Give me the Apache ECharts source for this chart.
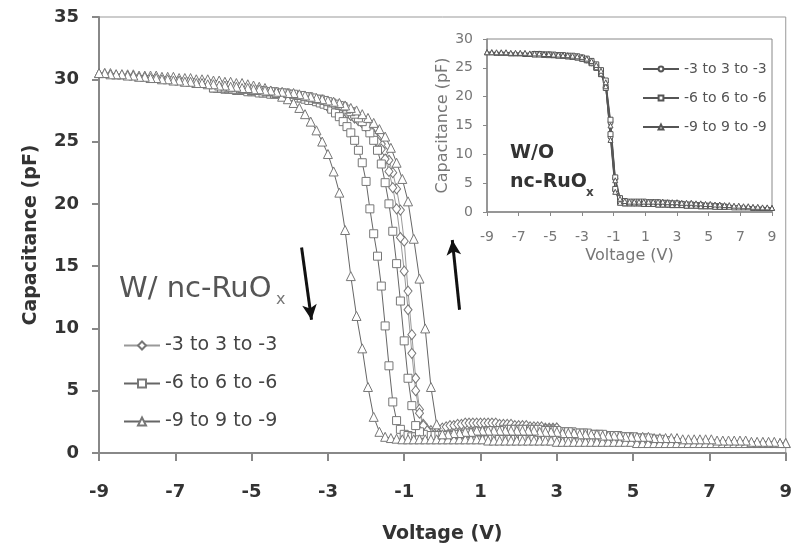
<!DOCTYPE html>
<html>
<head>
<meta charset="utf-8">
<script src="https://cdn.jsdelivr.net/npm/echarts@6/dist/echarts.min.js"></script>
<style>
  html, body { margin: 0; padding: 0; background: #fff; }
  #chart { width: 795px; height: 554px; }
</style>
</head>
<body>
<div id="chart"></div>
<script>
// Sweep labels and axis ticks
const sweepNames = ['-3 to 3 to -3', '-6 to 6 to -6', '-9 to 9 to -9'];
const voltTicks = [-9, -7, -5, -3, -1, 1, 3, 5, 7, 9];

// ---- With nc-RuOx (main panel): capacitance in pF ----
// forward sweep runs from -Vmax to +Vmax, return sweep from +Vmax back to -Vmax
const w3Start = -3, w3Step = 0.1;
const w3Fwd = [
  27.8, 27.7, 27.6, 27.5, 27.4, 27.3, 27.1, 26.9, 26.7, 26.5, 26.2,
  25.9, 25.6, 25.2, 24.8, 24.2, 23.5, 22.5, 21.2, 19.5, 17.0,
  13.0, 9.5, 6.0, 3.5, 2.3, 1.9, 1.8, 1.8, 1.9, 2.0,
  2.1, 2.2, 2.2, 2.3, 2.3, 2.4, 2.4, 2.4, 2.4, 2.4,
  2.4, 2.4, 2.4, 2.4, 2.3, 2.3, 2.3, 2.3, 2.2, 2.2,
  2.2, 2.2, 2.1, 2.1, 2.1, 2.1, 2.0, 2.0, 2.0, 2.0
];
const w3Ret = [
  2.0, 1.9, 1.9, 1.9, 1.8, 1.8, 1.8, 1.7, 1.7, 1.7, 1.7,
  1.6, 1.6, 1.6, 1.6, 1.5, 1.5, 1.5, 1.5, 1.5, 1.4,
  1.4, 1.4, 1.4, 1.4, 1.4, 1.4, 1.4, 1.4, 1.4, 1.4,
  1.5, 1.5, 1.6, 1.8, 2.2, 3.2, 5.0, 8.0, 11.5, 14.6,
  17.3, 19.6, 21.3, 22.6, 23.6, 24.4, 25.0, 25.5, 25.9, 26.2,
  26.5, 26.7, 26.9, 27.1, 27.3, 27.4, 27.5, 27.6, 27.7, 27.8
];

const w6Start = -6, w6Step = 0.1;
const w6Fwd = [
  29.3, 29.3, 29.3, 29.2, 29.2, 29.2, 29.1, 29.1, 29.1, 29.0, 29.0,
  29.0, 28.9, 28.9, 28.9, 28.8, 28.8, 28.8, 28.7, 28.7, 28.6,
  28.6, 28.5, 28.5, 28.4, 28.3, 28.3, 28.2, 28.1, 28.0, 27.9,
  27.6, 27.3, 27.0, 26.6, 26.2, 25.7, 25.1, 24.3, 23.3, 21.8,
  19.6, 17.6, 15.8, 13.4, 10.2, 7.0, 4.1, 2.6, 1.9, 1.5,
  1.4, 1.3, 1.3, 1.3, 1.3, 1.2, 1.2, 1.2, 1.2, 1.2,
  1.2, 1.2, 1.2, 1.2, 1.2, 1.2, 1.2, 1.2, 1.2, 1.2,
  1.2, 1.2, 1.2, 1.2, 1.1, 1.1, 1.1, 1.1, 1.1, 1.1,
  1.1, 1.1, 1.1, 1.1, 1.1, 1.1, 1.1, 1.1, 1.1, 1.1,
  1.1, 1.1, 1.1, 1.0, 1.0, 1.0, 1.0, 1.0, 1.0, 1.0,
  1.0, 1.0, 1.0, 1.0, 1.0, 1.0, 1.0, 1.0, 1.0, 1.0,
  1.0, 1.0, 1.0, 0.9, 0.9, 0.9, 0.9, 0.9, 0.9, 0.9
];
const w6Ret = [
  0.9, 1.0, 1.0, 1.1, 1.1, 1.1, 1.2, 1.2, 1.2, 1.2, 1.3,
  1.3, 1.3, 1.3, 1.4, 1.4, 1.4, 1.4, 1.5, 1.5, 1.5,
  1.5, 1.6, 1.6, 1.6, 1.6, 1.7, 1.7, 1.7, 1.7, 1.8,
  1.8, 1.8, 1.8, 1.8, 1.9, 1.9, 1.9, 1.9, 1.9, 1.9,
  1.9, 1.9, 1.9, 1.9, 1.8, 1.8, 1.8, 1.8, 1.7, 1.7,
  1.7, 1.6, 1.6, 1.6, 1.5, 1.5, 1.5, 1.4, 1.4, 1.4,
  1.4, 1.4, 1.4, 1.4, 1.5, 1.7, 2.2, 3.8, 6.0, 9.0,
  12.2, 15.2, 17.8, 20.0, 21.7, 23.2, 24.3, 25.1, 25.7, 26.2,
  26.6, 26.9, 27.2, 27.4, 27.6, 27.8, 27.9, 28.0, 28.1, 28.2,
  28.3, 28.4, 28.4, 28.5, 28.6, 28.6, 28.7, 28.7, 28.8, 28.8,
  28.9, 28.9, 28.9, 29.0, 29.0, 29.0, 29.1, 29.1, 29.1, 29.1,
  29.2, 29.2, 29.2, 29.2, 29.2, 29.3, 29.3, 29.3, 29.3, 29.3
];

const w9Start = -9, w9Step = 0.15;
const w9Fwd = [
  30.5, 30.5, 30.5, 30.4, 30.4, 30.4, 30.4, 30.3, 30.3, 30.3, 30.3,
  30.2, 30.2, 30.2, 30.1, 30.1, 30.1, 30.0, 30.0, 30.0, 29.9,
  29.9, 29.8, 29.8, 29.7, 29.7, 29.6, 29.5, 29.4, 29.3, 29.1,
  28.9, 28.6, 28.4, 28.1, 27.7, 27.2, 26.6, 25.9, 25.0, 24.0,
  22.6, 20.9, 17.9, 14.2, 11.0, 8.4, 5.3, 2.9, 1.7, 1.3,
  1.2, 1.15, 1.1, 1.1, 1.1, 1.1, 1.1, 1.1, 1.1, 1.1,
  1.1, 1.1, 1.1, 1.1, 1.1, 1.1, 1.1, 1.0, 1.0, 1.0,
  1.0, 1.0, 1.0, 1.0, 1.0, 1.0, 1.0, 1.0, 1.0, 0.9,
  0.9, 0.9, 0.9, 0.9, 0.9, 0.9, 0.9, 0.9, 0.9, 0.9,
  0.9, 0.9, 0.9, 0.8, 0.8, 0.8, 0.8, 0.8, 0.8, 0.8,
  0.8, 0.8, 0.8, 0.8, 0.8, 0.8, 0.8, 0.8, 0.8, 0.8,
  0.8, 0.8, 0.8, 0.8, 0.8, 0.8, 0.8, 0.8, 0.8, 0.8
];
const w9Ret = [
  0.8, 0.8, 0.9, 0.9, 0.9, 0.9, 0.9, 1.0, 1.0, 1.0, 1.0,
  1.0, 1.0, 1.1, 1.1, 1.1, 1.1, 1.1, 1.1, 1.2, 1.2,
  1.2, 1.2, 1.2, 1.3, 1.3, 1.3, 1.3, 1.3, 1.4, 1.4,
  1.4, 1.4, 1.5, 1.5, 1.5, 1.5, 1.6, 1.6, 1.6, 1.7,
  1.7, 1.7, 1.7, 1.8, 1.8, 1.8, 1.8, 1.8, 1.8, 1.8,
  1.8, 1.8, 1.8, 1.8, 1.7, 1.7, 1.6, 1.6, 1.5, 1.5,
  2.3, 5.3, 10.0, 14.0, 17.2, 20.2, 22.0, 23.3, 24.5, 25.4,
  26.0, 26.5, 26.9, 27.2, 27.5, 27.7, 27.9, 28.1, 28.2, 28.3,
  28.4, 28.5, 28.6, 28.7, 28.8, 28.9, 28.9, 29.0, 29.0, 29.1,
  29.1, 29.2, 29.2, 29.3, 29.3, 29.4, 29.4, 29.5, 29.5, 29.6,
  29.6, 29.7, 29.7, 29.8, 29.8, 29.9, 29.9, 30.0, 30.0, 30.1,
  30.1, 30.2, 30.2, 30.3, 30.3, 30.4, 30.4, 30.4, 30.5, 30.5
];

// ---- Without nc-RuOx (small panel) ----
const o3Start = -3, o3Step = 0.3;
const o3Fwd = [26.6, 26.3, 25.8, 25.0, 23.9, 21.6, 13.0, 3.8, 1.7, 1.6, 1.6,
  1.5, 1.5, 1.5, 1.4, 1.4, 1.4, 1.3, 1.3, 1.3, 1.2];
const o3Ret = [1.2, 1.3, 1.3, 1.4, 1.4, 1.5, 1.5, 1.6, 1.6, 1.7, 1.7,
  1.8, 2.4, 5.8, 15.5, 22.6, 24.5, 25.5, 26.1, 26.5, 26.6];

const o6Start = -6, o6Step = 0.3;
const o6Fwd = [
  27.4, 27.4, 27.3, 27.3, 27.2, 27.2, 27.1, 27.0, 26.9, 26.8, 26.6,
  26.3, 25.8, 25.0, 23.9, 21.5, 13.5, 4.0, 1.7, 1.5, 1.5,
  1.5, 1.5, 1.4, 1.4, 1.4, 1.3, 1.3, 1.3, 1.2, 1.2,
  1.2, 1.1, 1.1, 1.1, 1.0, 1.0, 1.0, 1.0, 0.9, 0.9
];
const o6Ret = [
  0.9, 1.0, 1.0, 1.1, 1.1, 1.2, 1.2, 1.3, 1.3, 1.4, 1.5,
  1.5, 1.6, 1.6, 1.7, 1.7, 1.7, 1.8, 1.8, 1.8, 1.8,
  1.9, 2.4, 6.0, 16.0, 22.8, 24.6, 25.6, 26.2, 26.6, 26.8,
  27.0, 27.1, 27.1, 27.2, 27.2, 27.3, 27.3, 27.3, 27.4, 27.4
];

const o9Start = -9, o9Step = 0.3;
const o9Fwd = [
  27.7, 27.7, 27.6, 27.6, 27.6, 27.5, 27.5, 27.5, 27.4, 27.4, 27.3,
  27.3, 27.3, 27.2, 27.2, 27.1, 27.1, 27.0, 26.9, 26.8, 26.6,
  26.4, 25.9, 25.1, 24.0, 21.8, 12.5, 3.5, 1.6, 1.5, 1.5,
  1.5, 1.5, 1.4, 1.4, 1.4, 1.3, 1.3, 1.3, 1.2, 1.2,
  1.2, 1.1, 1.1, 1.1, 1.0, 1.0, 1.0, 0.9, 0.9, 0.9,
  0.9, 0.8, 0.8, 0.8, 0.8, 0.7, 0.7, 0.7, 0.7, 0.7
];
const o9Ret = [
  0.7, 0.8, 0.8, 0.9, 0.9, 1.0, 1.0, 1.1, 1.1, 1.2, 1.2,
  1.3, 1.3, 1.4, 1.4, 1.5, 1.5, 1.6, 1.6, 1.6, 1.7,
  1.7, 1.7, 1.8, 1.8, 1.8, 1.8, 1.8, 1.8, 1.8, 1.8,
  1.9, 2.3, 5.5, 15.0, 22.5, 24.5, 25.5, 26.2, 26.6, 26.9,
  27.0, 27.1, 27.2, 27.2, 27.3, 27.3, 27.4, 27.4, 27.5, 27.5,
  27.5, 27.6, 27.6, 27.6, 27.6, 27.7, 27.7, 27.7, 27.7, 27.7
];

// Sweep-direction arrows, in (V, pF)
const downArrow = [[-3.69, 16.5], [-3.43, 10.7]];
const upArrow = [[0.45, 11.5], [0.26, 17.1]];

// Join forward and return sweeps into one closed hysteresis loop
function sweepLoop(start, step, fwd, ret) {
  const pts = fwd.map((c, i) => [+(start + i * step).toFixed(2), c]);
  ret.forEach((c, j) => pts.push([+(-start - j * step).toFixed(2), c]));
  return pts;
}

const withLoops = [
  sweepLoop(w3Start, w3Step, w3Fwd, w3Ret),
  sweepLoop(w6Start, w6Step, w6Fwd, w6Ret),
  sweepLoop(w9Start, w9Step, w9Fwd, w9Ret)
];
const withoutLoops = [
  sweepLoop(o3Start, o3Step, o3Fwd, o3Ret),
  sweepLoop(o6Start, o6Step, o6Fwd, o6Ret),
  sweepLoop(o9Start, o9Step, o9Fwd, o9Ret)
];
const insetNames = sweepNames.map(n => 'W/O ' + n);

const FONT = '"DejaVu Sans", "Liberation Sans", Arial, sans-serif';
const mainSymbols = ['diamond', 'rect', 'triangle'];
const mainSizes = [[8, 10], 8, 9];
const insetSymbols = ['circle', 'rect', 'triangle'];
const insetSizes = [5, 5, 5];

const series = [];
withLoops.forEach((data, k) => {
  const s = {
    name: sweepNames[k], type: 'line', xAxisIndex: 0, yAxisIndex: 0,
    data: data, symbol: mainSymbols[k], symbolSize: mainSizes[k],
    lineStyle: { color: k === 0 ? '#999' : '#666', width: 1 },
    itemStyle: { color: '#fff', borderColor: '#777', borderWidth: 1 },
    emphasis: { disabled: true }, animation: false, z: 3
  };
  if (k === 0) {
    s.markLine = {
      silent: true, animation: false,
      symbol: ['none', 'arrow'], symbolSize: [11, 15],
      lineStyle: { color: '#111', width: 3, type: 'solid' },
      label: { show: false },
      data: [
        [{ coord: downArrow[0] }, { coord: downArrow[1] }],
        [{ coord: upArrow[0] }, { coord: upArrow[1] }]
      ]
    };
  }
  series.push(s);
});
withoutLoops.forEach((data, k) => {
  series.push({
    name: insetNames[k], type: 'line', xAxisIndex: 1, yAxisIndex: 1,
    data: data, symbol: insetSymbols[k], symbolSize: insetSizes[k],
    lineStyle: { color: '#555', width: 1 },
    itemStyle: { color: '#fff', borderColor: '#555', borderWidth: 1 },
    emphasis: { disabled: true }, animation: false, z: 3
  });
});

const chart = echarts.init(document.getElementById('chart'));
chart.setOption({
  animation: false,
  backgroundColor: '#fff',
  grid: [
    { left: 99, right: 8, top: 17, bottom: 101, show: true, borderColor: '#999', borderWidth: 1 },
    { left: 487, width: 285, top: 39, height: 173, show: true, borderColor: '#888', borderWidth: 1 }
  ],
  xAxis: [
    {
      type: 'value', gridIndex: 0, min: -9, max: 9, interval: 2,
      name: 'Voltage (V)', nameLocation: 'middle', nameGap: 72,
      nameTextStyle: { fontFamily: FONT, fontSize: 19, fontWeight: 'bold', color: '#333' },
      axisLine: { onZero: false, lineStyle: { color: '#888', width: 2 } },
      axisTick: { show: true, inside: false, length: 8, lineStyle: { color: '#888', width: 2 } },
      axisLabel: { margin: 10, padding: [20, 0, 0, 0], fontFamily: FONT, fontSize: 18, fontWeight: 'bold', color: '#333' },
      splitLine: { show: false }
    },
    {
      type: 'value', gridIndex: 1, min: -9, max: 9, interval: 2,
      name: 'Voltage (V)', nameLocation: 'middle', nameGap: 36,
      nameTextStyle: { fontFamily: FONT, fontSize: 16, color: '#777' },
      axisLine: { onZero: false, lineStyle: { color: '#888', width: 1.5 } },
      axisTick: { show: true, inside: false, length: 4, lineStyle: { color: '#888' } },
      axisLabel: { margin: 18, fontFamily: FONT, fontSize: 14, color: '#777' },
      splitLine: { show: false }
    }
  ],
  yAxis: [
    {
      type: 'value', gridIndex: 0, min: 0, max: 35, interval: 5,
      name: 'Capacitance (pF)', nameLocation: 'middle', nameGap: 58,
      nameTextStyle: { fontFamily: FONT, fontSize: 19, fontWeight: 'bold', color: '#333' },
      axisLine: { show: true, onZero: false, lineStyle: { color: '#888', width: 2 } },
      axisTick: { show: true, inside: false, length: 7, lineStyle: { color: '#888', width: 2 } },
      axisLabel: { margin: 20, fontFamily: FONT, fontSize: 18, fontWeight: 'bold', color: '#333' },
      splitLine: { show: false }
    },
    {
      type: 'value', gridIndex: 1, min: 0, max: 30, interval: 5,
      name: 'Capacitance (pF)', nameLocation: 'middle', nameGap: 36,
      nameTextStyle: { fontFamily: FONT, fontSize: 16, color: '#777' },
      axisLine: { show: true, onZero: false, lineStyle: { color: '#888', width: 1.5 } },
      axisTick: { show: true, inside: false, length: 4, lineStyle: { color: '#888' } },
      axisLabel: { margin: 14, fontFamily: FONT, fontSize: 14, color: '#777' },
      splitLine: { show: false }
    }
  ],
  legend: [
    {
      data: sweepNames, orient: 'vertical', left: 118, top: 331,
      itemWidth: 36, itemHeight: 10, itemGap: 19,
      textStyle: { fontFamily: FONT, fontSize: 19, color: '#444' },
      selectedMode: false
    },
    {
      data: insetNames, orient: 'vertical', left: 637, top: 57,
      itemWidth: 36, itemHeight: 6, itemGap: 15,
      formatter: name => name.replace('W/O ', ''),
      textStyle: { fontFamily: FONT, fontSize: 14, color: '#555' },
      selectedMode: false
    }
  ],
  graphic: [
    { type: 'text', left: 119, top: 275, silent: true,
      style: { text: 'W/ nc-RuO', font: '29px ' + FONT, fill: '#555' } },
    { type: 'text', left: 276, top: 292, silent: true,
      style: { text: 'x', font: '16px ' + FONT, fill: '#777' } },
    { type: 'text', left: 510, top: 144, silent: true,
      style: { text: 'W/O', font: 'bold 19px ' + FONT, fill: '#333' } },
    { type: 'text', left: 510, top: 173, silent: true,
      style: { text: 'nc-RuO', font: 'bold 19px ' + FONT, fill: '#333' } },
    { type: 'text', left: 586, top: 187, silent: true,
      style: { text: 'x', font: 'bold 12px ' + FONT, fill: '#444' } }
  ],
  series: series
});
</script>
</body>
</html>
